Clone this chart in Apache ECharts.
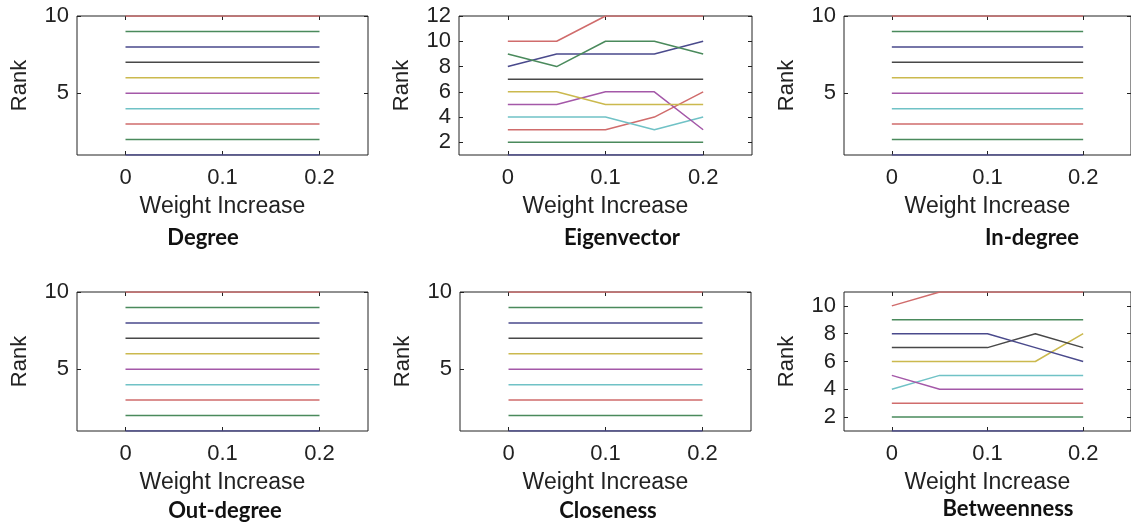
<!DOCTYPE html>
<html>
<head>
<meta charset="utf-8">
<script src="https://cdn.jsdelivr.net/npm/echarts@6/dist/echarts.min.js"></script>
<style>
  html, body { margin: 0; padding: 0; background: #fff; }
  #main { width: 1131px; height: 529px; }
</style>
</head>
<body>
<div id="main"></div>
<script>
// x values of each line
const weightIncrease = [0, 0.05, 0.1, 0.15, 0.2];

// rank of each node at each weight increase (one array per node)
const degreeRanks = [
  [1, 1, 1, 1, 1], [2, 2, 2, 2, 2], [3, 3, 3, 3, 3], [4, 4, 4, 4, 4], [5, 5, 5, 5, 5],
  [6, 6, 6, 6, 6], [7, 7, 7, 7, 7], [8, 8, 8, 8, 8], [9, 9, 9, 9, 9], [10, 10, 10, 10, 10]
];
const eigenvectorRanks = [
  [1, 1, 1, 1, 1], [2, 2, 2, 2, 2], [3, 3, 3, 4, 6], [4, 4, 4, 3, 4], [5, 5, 6, 6, 3],
  [6, 6, 5, 5, 5], [7, 7, 7, 7, 7], [8, 9, 9, 9, 10], [9, 8, 10, 10, 9], [10, 10, 12, 12, 12]
];
const inDegreeRanks = [
  [1, 1, 1, 1, 1], [2, 2, 2, 2, 2], [3, 3, 3, 3, 3], [4, 4, 4, 4, 4], [5, 5, 5, 5, 5],
  [6, 6, 6, 6, 6], [7, 7, 7, 7, 7], [8, 8, 8, 8, 8], [9, 9, 9, 9, 9], [10, 10, 10, 10, 10]
];
const outDegreeRanks = [
  [1, 1, 1, 1, 1], [2, 2, 2, 2, 2], [3, 3, 3, 3, 3], [4, 4, 4, 4, 4], [5, 5, 5, 5, 5],
  [6, 6, 6, 6, 6], [7, 7, 7, 7, 7], [8, 8, 8, 8, 8], [9, 9, 9, 9, 9], [10, 10, 10, 10, 10]
];
const closenessRanks = [
  [1, 1, 1, 1, 1], [2, 2, 2, 2, 2], [3, 3, 3, 3, 3], [4, 4, 4, 4, 4], [5, 5, 5, 5, 5],
  [6, 6, 6, 6, 6], [7, 7, 7, 7, 7], [8, 8, 8, 8, 8], [9, 9, 9, 9, 9], [10, 10, 10, 10, 10]
];
const betweennessRanks = [
  [1, 1, 1, 1, 1], [2, 2, 2, 2, 2], [3, 3, 3, 3, 3], [4, 5, 5, 5, 5], [5, 4, 4, 4, 4],
  [6, 6, 6, 6, 8], [7, 7, 7, 8, 7], [8, 8, 8, 7, 6], [9, 9, 9, 9, 9], [10, 11, 11, 11, 11]
];

const panelTitles = ['Degree', 'Eigenvector', 'In-degree', 'Out-degree', 'Closeness', 'Betweenness'];
const xTicks = [0, 0.1, 0.2];
const yRanges = [[1, 10], [1, 12], [1, 10], [1, 10], [1, 10], [1, 11]];
const yTicks = [[5, 10], [2, 4, 6, 8, 10, 12], [5, 10], [5, 10], [5, 10], [2, 4, 6, 8, 10]];

// matlab-ish line colours, a bit washed out like the scan
const lineColors = ['#4a4a8c', '#4a8a5c', '#d06c6c', '#70c2c6', '#a458a8', '#cbb94e', '#484848'];

const allRanks = [degreeRanks, eigenvectorRanks, inDegreeRanks, outDegreeRanks, closenessRanks, betweennessRanks];

const grids = [
  { left: 77, top: 16, width: 291, height: 139 },
  { left: 459, top: 16, width: 293, height: 139 },
  { left: 844, top: 16, width: 291, height: 139 },
  { left: 77, top: 292, width: 291, height: 139 },
  { left: 460, top: 292, width: 291, height: 139 },
  { left: 844, top: 292, width: 291, height: 139 }
];
const titlePos = [[203, 238], [622, 238], [1032, 238], [225, 511], [608, 511], [1008, 509]];

const font = 'Liberation Sans, Arial, sans-serif';

const option = {
  animation: false,
  backgroundColor: '#fff',
  grid: grids.map(g => Object.assign({ show: true, borderColor: '#222', borderWidth: 1, backgroundColor: 'transparent' }, g)),
  xAxis: [],
  yAxis: [],
  series: [],
  graphic: []
};

grids.forEach((g, i) => {
  // bottom axis with labels
  option.xAxis.push({
    type: 'value', gridIndex: i, min: -0.05, max: 0.25, position: 'bottom',
    name: 'Weight Increase', nameLocation: 'middle', nameGap: 40,
    nameTextStyle: { fontFamily: font, fontSize: 23, color: '#222' },
    axisLine: { show: false, onZero: false },
    axisTick: { inside: true, length: 4, customValues: xTicks, lineStyle: { color: '#222' } },
    axisLabel: { customValues: xTicks, margin: 12, fontFamily: font, fontSize: 22, color: '#222' },
    splitLine: { show: false }
  });
  // mirrored top ticks
  option.xAxis.push({
    type: 'value', gridIndex: i, min: -0.05, max: 0.25, position: 'top',
    axisLine: { show: false, onZero: false },
    axisTick: { inside: true, length: 4, customValues: xTicks, lineStyle: { color: '#222' } },
    axisLabel: { show: false },
    splitLine: { show: false }
  });
  option.yAxis.push({
    type: 'value', gridIndex: i, min: yRanges[i][0], max: yRanges[i][1], position: 'left',
    name: 'Rank', nameLocation: 'middle', nameGap: 46, nameRotate: 90,
    nameTextStyle: { fontFamily: font, fontSize: 22, color: '#222' },
    axisLine: { show: false, onZero: false },
    axisTick: { inside: true, length: 4, customValues: yTicks[i], lineStyle: { color: '#222' } },
    axisLabel: { customValues: yTicks[i], margin: 8, fontFamily: font, fontSize: 22, color: '#222' },
    splitLine: { show: false }
  });
  option.yAxis.push({
    type: 'value', gridIndex: i, min: yRanges[i][0], max: yRanges[i][1], position: 'right',
    axisLine: { show: false, onZero: false },
    axisTick: { inside: true, length: 4, customValues: yTicks[i], lineStyle: { color: '#222' } },
    axisLabel: { show: false },
    splitLine: { show: false }
  });

  allRanks[i].forEach((ranks, k) => {
    option.series.push({
      type: 'line',
      xAxisIndex: i * 2,
      yAxisIndex: i * 2,
      symbol: 'none',
      data: weightIncrease.map((w, j) => [w, ranks[j]]),
      lineStyle: { width: 1.5, color: lineColors[k % lineColors.length] },
      z: 3
    });
  });

  option.graphic.push({
    type: 'text',
    x: titlePos[i][0],
    y: titlePos[i][1],
    style: {
      text: panelTitles[i],
      fontFamily: 'Lato, Open Sans, sans-serif',
      fontWeight: 'bold',
      fontSize: 22,
      fill: '#111',
      align: 'center',
      verticalAlign: 'middle'
    }
  });
});

const chart = echarts.init(document.getElementById('main'), null, { renderer: 'canvas' });
chart.setOption(option);
</script>
</body>
</html>
